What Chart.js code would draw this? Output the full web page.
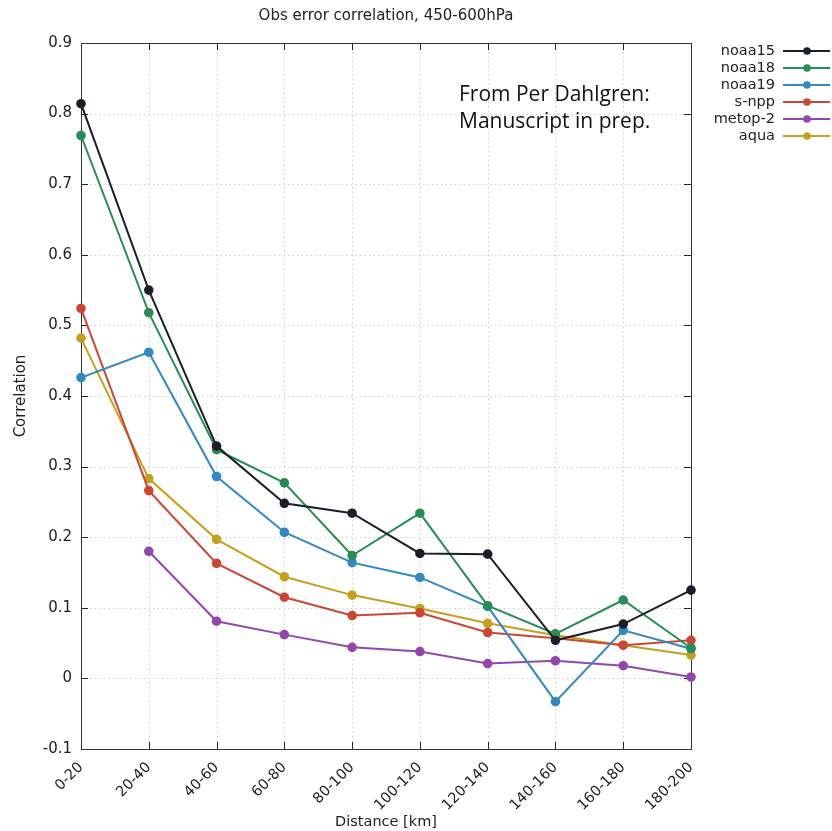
<!DOCTYPE html>
<html>
<head>
<meta charset="utf-8">
<script src="https://cdn.jsdelivr.net/npm/chart.js@4.4.1/dist/chart.umd.min.js"></script>
<style>
  html, body { margin: 0; padding: 0; background: #fff; }
  #wrap { width: 832px; height: 831px; }
</style>
</head>
<body>
<div id="wrap"><canvas id="c"></canvas></div>
<script>
// categories (distance bins)
const distances = ['0-20','20-40','40-60','60-80','80-100','100-120','120-140','140-160','160-180','180-200'];

// correlations per satellite
const noaa15 = [0.814, 0.550, 0.329, 0.248, 0.234, 0.177, 0.176, 0.054, 0.077, 0.125];
const noaa18 = [0.769, 0.518, 0.324, 0.277, 0.174, 0.234, 0.103, 0.063, 0.111, 0.043];
const noaa19 = [0.426, 0.462, 0.286, 0.207, 0.164, 0.143, 0.102, -0.033, 0.068, 0.042];
const snpp   = [0.524, 0.266, 0.163, 0.115, 0.089, 0.093, 0.065, 0.057, 0.047, 0.054];
const metop2 = [null, 0.180, 0.081, 0.062, 0.044, 0.038, 0.021, 0.025, 0.018, 0.002];
const aqua   = [0.482, 0.283, 0.197, 0.144, 0.118, 0.099, 0.078, 0.061, 0.047, 0.033];

const names  = ['noaa15','noaa18','noaa19','s-npp','metop-2','aqua'];
const series = [noaa15, noaa18, noaa19, snpp, metop2, aqua];
const colors = ['#1b1f2a','#2a8c55','#3388c2','#cc4636','#9347ad','#c4a11c'];

const yTicks = [-0.1,0,0.1,0.2,0.3,0.4,0.5,0.6,0.7,0.8,0.9];

const datasets = [];
for (let i=0; i<series.length; i++) {
  datasets.push({
    label: names[i],
    data: series[i],
    borderColor: colors[i],
    backgroundColor: colors[i],
    borderWidth: 2,
    pointRadius: 3.8,
    pointHoverRadius: 3.8,
    tension: 0
  });
}

// gnuplot-like frame: dotted grid, box, inward ticks, custom legend, title, note
const framePlugin = {
  id: 'frame',
  beforeDatasetsDraw(chart) {
    const ctx = chart.ctx, a = chart.chartArea;
    const xs = chart.scales.x, ys = chart.scales.y;
    ctx.save();
    ctx.strokeStyle = '#cfcfcf';
    ctx.lineWidth = 1;
    ctx.setLineDash([1.5, 3]);
    for (let i=1; i<distances.length-1; i++) {
      const px = Math.round(xs.getPixelForValue(i)) + 0.5;
      ctx.beginPath(); ctx.moveTo(px, a.top); ctx.lineTo(px, a.bottom); ctx.stroke();
    }
    yTicks.forEach(v => {
      if (v <= -0.1 || v >= 0.9) return;
      const py = Math.round(ys.getPixelForValue(v)) + 0.5;
      ctx.beginPath(); ctx.moveTo(a.left, py); ctx.lineTo(a.right, py); ctx.stroke();
    });
    ctx.setLineDash([]);
    ctx.strokeStyle = '#222';
    ctx.lineWidth = 1;
    ctx.beginPath();
    for (let i=0; i<distances.length; i++) {
      const px = Math.round(xs.getPixelForValue(i)) + 0.5;
      ctx.moveTo(px, a.bottom); ctx.lineTo(px, a.bottom - 7);
      ctx.moveTo(px, a.top); ctx.lineTo(px, a.top + 7);
    }
    yTicks.forEach(v => {
      const py = Math.round(ys.getPixelForValue(v)) + 0.5;
      ctx.moveTo(a.left, py); ctx.lineTo(a.left + 7, py);
      ctx.moveTo(a.right, py); ctx.lineTo(a.right - 7, py);
    });
    ctx.stroke();
    ctx.strokeStyle = '#333';
    ctx.strokeRect(Math.round(a.left)+0.5, Math.round(a.top)+0.5, Math.round(a.right-a.left), Math.round(a.bottom-a.top));
    ctx.restore();
  },
  afterDraw(chart) {
    const ctx = chart.ctx, a = chart.chartArea;
    ctx.save();
    // title
    ctx.fillStyle = '#222';
    ctx.font = '15px "DejaVu Sans"';
    ctx.textAlign = 'center';
    ctx.textBaseline = 'middle';
    ctx.fillText('Obs error correlation, 450-600hPa', (a.left + a.right)/2, 16);
    // legend
    ctx.font = '14.5px "DejaVu Sans"';
    ctx.textAlign = 'right';
    chart.data.datasets.forEach((d, i) => {
      const y = 51 + i*17;
      ctx.fillStyle = '#222';
      ctx.fillText(d.label, 775, y);
      ctx.strokeStyle = d.borderColor;
      ctx.lineWidth = 2;
      ctx.beginPath(); ctx.moveTo(783, y); ctx.lineTo(830, y); ctx.stroke();
      ctx.fillStyle = d.borderColor;
      ctx.beginPath(); ctx.arc(807, y, 3.8, 0, Math.PI*2); ctx.fill();
    });
    // note
    ctx.fillStyle = '#111';
    ctx.font = '21px "Open Sans"';
    ctx.textAlign = 'left';
    ctx.fillText('From Per Dahlgren:', 459, 95);
    ctx.fillText('Manuscript in prep.', 459, 122);
    ctx.restore();
  }
};

new Chart(document.getElementById('c'), {
  type: 'line',
  data: { labels: distances, datasets: datasets },
  options: {
    responsive: true,
    maintainAspectRatio: false,
    animation: false,
    layout: { padding: { left: 0, right: 141, top: 43, bottom: 0 } },
    plugins: {
      legend: { display: false },
      title: { display: false },
      tooltip: { enabled: false }
    },
    scales: {
      x: {
        type: 'category',
        offset: false,
        grid: { display: false },
        border: { display: false },
        ticks: {
          color: '#222',
          font: { family: 'DejaVu Sans', size: 14.5 },
          maxRotation: 45, minRotation: 45,
          autoSkip: false,
          padding: 2
        },
        title: {
          display: true,
          text: 'Distance [km]',
          color: '#222',
          font: { family: 'DejaVu Sans', size: 14.5 },
          padding: { top: 0, bottom: 0 }
        },
        afterFit(scale) { scale.height = 82; }
      },
      y: {
        min: -0.1,
        max: 0.9,
        grid: { display: false, drawTicks: false },
        border: { display: false },
        afterBuildTicks(scale) { scale.ticks = yTicks.map(v => ({ value: v })); },
        ticks: {
          color: '#222',
          font: { family: 'DejaVu Sans', size: 15 },
          padding: 9,
          callback: v => String(Number(v.toFixed(1)))
        },
        title: {
          display: true,
          text: 'Correlation',
          color: '#222',
          font: { family: 'DejaVu Sans', size: 15 },
          padding: { top: 12, bottom: 0 }
        },
        afterFit(scale) { scale.width = 81; }
      }
    }
  },
  plugins: [framePlugin]
});
</script>
</body>
</html>
